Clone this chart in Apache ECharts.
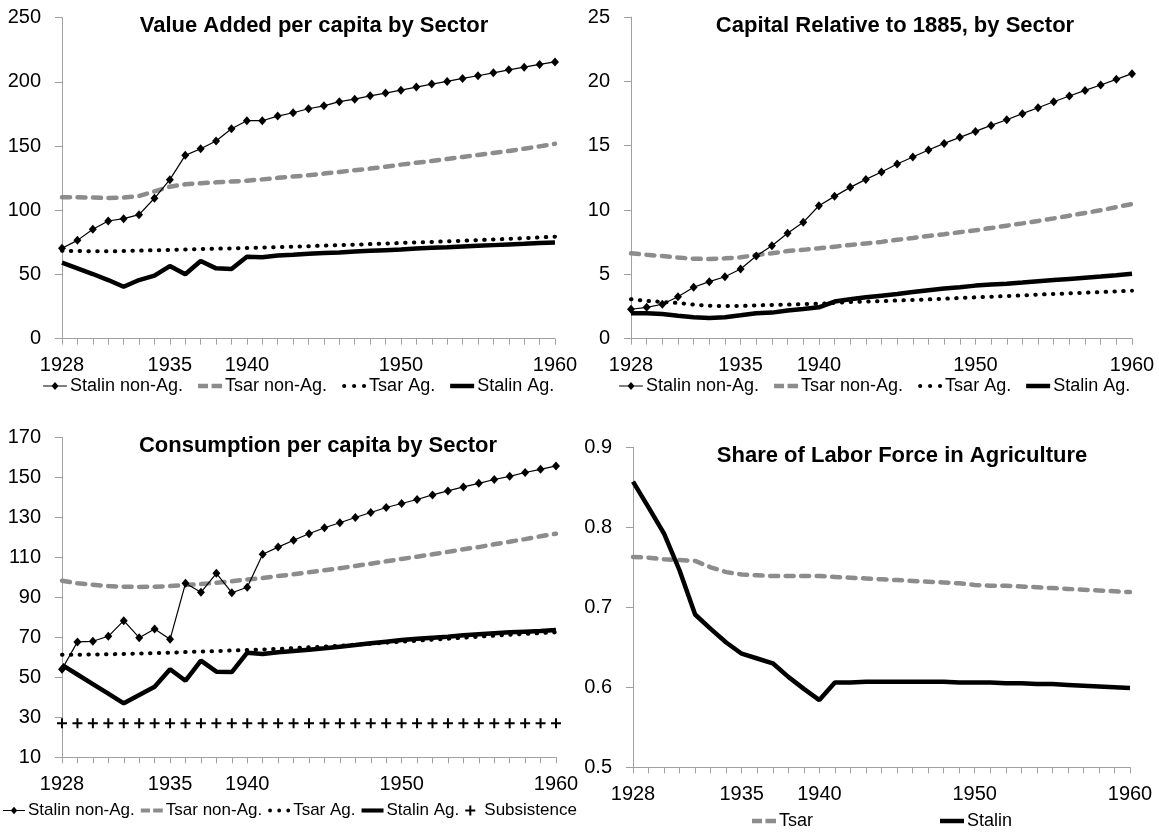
<!DOCTYPE html>
<html>
<head>
<meta charset="utf-8">
<script src="https://cdn.jsdelivr.net/npm/echarts@6/dist/echarts.min.js"></script>
<style>
html,body{margin:0;padding:0;background:#fff;}
#chart{width:1159px;height:832px;}
</style>
</head>
<body>
<div id="chart"></div>
<script>
// ---------- data ----------
var years = ['1928','1929','1930','1931','1932','1933','1934','1935','1936','1937','1938','1939','1940','1941','1942','1943','1944','1945','1946','1947','1948','1949','1950','1951','1952','1953','1954','1955','1956','1957','1958','1959','1960'];
var xTickLabels = ['1928','1935','1940','1950','1960'];

// Panel 1: Value Added per capita by Sector
var va_stalinNonAg = [70.3,76.5,85.1,91.6,93.4,96.5,109.3,123.8,142.7,147.9,153.9,163.5,169.7,169.7,173.3,175.9,179.0,181.3,184.5,186.5,189.1,191.2,193.5,195.9,198.2,200.3,202.6,204.7,207.0,209.3,211.4,213.5,215.5];
var va_tsarNonAg = [110.0,110.0,109.8,109.5,109.8,111.0,114.6,118.3,120.2,121.0,121.7,122.3,123.0,124.0,125.2,126.2,127.2,128.5,129.8,131.1,132.4,133.9,135.5,137.0,138.3,139.9,141.5,143.0,144.6,146.1,147.9,149.7,151.8];
var va_tsarAg = [68.4,68.2,68.0,68.0,68.2,68.5,68.8,69.1,69.4,69.7,70.0,70.3,70.6,70.9,71.2,71.6,72.0,72.4,72.8,73.2,73.6,74.0,74.5,74.9,75.3,75.8,76.2,76.7,77.2,77.7,78.2,78.8,79.4];
var va_stalinAg = [59.1,54.7,50.3,45.6,40.4,45.6,49.0,56.5,50.1,60.4,54.7,54.2,63.8,63.3,64.7,65.3,66.0,66.6,67.1,67.9,68.4,68.9,69.4,70.2,70.7,71.2,71.8,72.3,72.8,73.3,73.8,74.4,74.9];

// Panel 2: Capital Relative to 1885, by Sector
var k_stalinNonAg = [2.28,2.43,2.67,3.26,3.99,4.43,4.81,5.41,6.42,7.22,8.19,9.04,10.33,11.06,11.76,12.38,12.95,13.58,14.12,14.66,15.18,15.65,16.11,16.58,17.02,17.49,17.95,18.42,18.86,19.30,19.72,20.16,20.60];
var k_tsarNonAg = [6.63,6.52,6.42,6.30,6.21,6.19,6.24,6.32,6.50,6.63,6.81,6.90,7.02,7.15,7.28,7.40,7.52,7.68,7.82,7.98,8.12,8.27,8.42,8.60,8.78,8.96,9.15,9.35,9.56,9.77,9.98,10.22,10.47];
var k_tsarAg = [3.06,2.93,2.85,2.77,2.64,2.56,2.53,2.53,2.59,2.62,2.64,2.68,2.71,2.78,2.85,2.88,2.92,2.96,3.00,3.05,3.10,3.16,3.21,3.26,3.31,3.36,3.42,3.47,3.52,3.57,3.62,3.67,3.73];
var k_stalinAg = [1.97,1.97,1.91,1.78,1.66,1.60,1.66,1.81,1.97,2.02,2.18,2.30,2.43,2.88,3.06,3.21,3.34,3.47,3.63,3.76,3.89,3.99,4.12,4.20,4.27,4.36,4.46,4.55,4.64,4.73,4.82,4.93,5.05];

// Panel 3: Consumption per capita by Sector
var c_stalinNonAg = [54.0,67.7,68.0,70.5,78.3,69.8,74.2,69.0,97.0,92.5,102.0,92.3,95.0,111.5,115.1,118.5,121.8,124.8,127.3,129.9,132.4,134.9,136.9,138.9,141.2,143.2,145.2,147.0,148.9,150.5,152.4,154.0,155.7];
var c_tsarNonAg = [98.3,97.0,96.3,95.6,95.3,95.2,95.3,95.6,96.1,96.6,97.3,98.0,98.9,99.7,100.6,101.5,102.5,103.5,104.5,105.7,106.8,108.0,109.2,110.3,111.5,112.7,114.0,115.1,116.5,117.8,119.1,120.5,121.8];
var c_tsarAg = [61.3,61.3,61.4,61.5,61.7,61.9,62.1,62.3,62.6,62.9,63.1,63.4,63.6,63.9,64.2,64.6,65.0,65.3,65.8,66.3,66.8,67.3,67.8,68.3,68.8,69.3,69.8,70.3,70.8,71.3,71.7,72.1,72.5];
var c_stalinAg = [56.2,51.4,46.6,41.8,37.0,41.2,45.3,54.0,48.3,58.3,52.8,52.6,62.3,61.6,62.5,63.2,63.8,64.5,65.3,66.1,67.0,67.8,68.6,69.3,69.8,70.3,71.0,71.5,72.0,72.5,72.8,73.1,73.6];
var c_subsistence = [27,27,27,27,27,27,27,27,27,27,27,27,27,27,27,27,27,27,27,27,27,27,27,27,27,27,27,27,27,27,27,27,27];

// Panel 4: Share of Labor Force in Agriculture
var l_tsar = [0.763,0.762,0.760,0.759,0.758,0.750,0.744,0.741,0.740,0.739,0.739,0.739,0.739,0.738,0.737,0.736,0.735,0.734,0.733,0.732,0.731,0.730,0.728,0.727,0.727,0.726,0.725,0.724,0.723,0.722,0.721,0.720,0.719];
var l_stalin = [0.857,0.825,0.792,0.746,0.691,0.673,0.656,0.642,0.636,0.630,0.613,0.598,0.584,0.606,0.606,0.607,0.607,0.607,0.607,0.607,0.607,0.606,0.606,0.606,0.605,0.605,0.604,0.604,0.603,0.602,0.601,0.600,0.599];

// ---------- styles ----------
var FONT = "'Liberation Sans',Arial,sans-serif";
var AXIS_GRAY = '#a0a0a0';
var GRAY = '#8c8c8c';
var PLUS = 'path://M4,0H6V4H10V6H6V10H4V6H0V4H4Z';
var ICON = {
  'Stalin non-Ag.': 'path://M0,4.4H24V5.6H0Z M12,1L15.5,5L12,9L8.5,5Z',
  'Tsar non-Ag.': 'path://M0,0H10V4.5H0Z M13.5,0H24V4.5H13.5Z',
  'Tsar Ag.': 'path://M0.5,2a2,2 0 1,0 4,0a2,2 0 1,0 -4,0Z M10,2a2,2 0 1,0 4,0a2,2 0 1,0 -4,0Z M19.5,2a2,2 0 1,0 4,0a2,2 0 1,0 -4,0Z',
  'Stalin Ag.': 'path://M0,0H24V4.5H0Z',
  'Subsistence': PLUS,
  'Tsar': 'path://M0,0H10V4.5H0Z M13.5,0H24V4.5H13.5Z',
  'Stalin': 'path://M0,0H24V4.5H0Z'
};
function legendData(names){ return names.map(function(n){ return {name:n, icon:ICON[n]}; }); }

function sStalinNonAg(i, data){ return {name:'Stalin non-Ag.', type:'line', xAxisIndex:i, yAxisIndex:i, data:data,
  symbol:'diamond', symbolSize:[8,9], showSymbol:true, showAllSymbol:true, itemStyle:{color:'#000'}, lineStyle:{color:'#000', width:1.2}, z:5}; }
function sTsarNonAg(i, data, name){ return {name:name||'Tsar non-Ag.', type:'line', xAxisIndex:i, yAxisIndex:i, data:data,
  symbol:'none', itemStyle:{color:GRAY}, lineStyle:{color:GRAY, width:4.5, type:[8,7.5], cap:'round'}, z:3}; }
function sTsarAg(i, data){ return {name:'Tsar Ag.', type:'line', xAxisIndex:i, yAxisIndex:i, data:data,
  symbol:'none', itemStyle:{color:'#000'}, lineStyle:{color:'#000', width:4, type:[0.5,8.3], cap:'round'}, z:3}; }
function sStalinAg(i, data, name){ return {name:name||'Stalin Ag.', type:'line', xAxisIndex:i, yAxisIndex:i, data:data,
  symbol:'none', itemStyle:{color:'#000'}, lineStyle:{color:'#000', width:4.5}, z:4}; }

var grids = [
  {left:62, top:17.6, width:493, height:321},
  {left:631, top:17.1, width:501, height:321.5},
  {left:62, top:437.3, width:494, height:320},
  {left:633, top:447.3, width:497, height:320}
];
var yDefs = [
  {min:0, max:250, interval:50},
  {min:0, max:25, interval:5},
  {min:10, max:170, interval:20},
  {min:0.5, max:0.9, interval:0.1}
];

var legendText = function(size){ return {fontFamily:FONT, fontSize:size, color:'#000', padding:[0,0,0,-2]}; };

var option = {
  animation:false,
  backgroundColor:'#fff',
  textStyle:{fontFamily:FONT, color:'#000'},
  title:[
    {text:'Value Added per capita by Sector', left:314, top:26},
    {text:'Capital Relative to 1885, by Sector', left:895, top:26},
    {text:'Consumption per capita by Sector', left:318, top:446},
    {text:'Share of Labor Force in Agriculture', left:902, top:456}
  ].map(function(t){ return Object.assign(t, {textAlign:'center', textVerticalAlign:'middle', padding:0,
    textStyle:{fontFamily:FONT, fontSize:22, fontWeight:'bold', color:'#000'}}); }),
  grid: grids.map(function(g){ return Object.assign({outerBoundsMode:'none', containLabel:false}, g); }),
  xAxis: grids.map(function(g, i){ return {
    type:'category', gridIndex:i, data:years, boundaryGap:false,
    axisLine:{lineStyle:{color:AXIS_GRAY, width:1}},
    axisTick:{show:true, interval:0, length:6, lineStyle:{color:AXIS_GRAY}},
    axisLabel:{interval:function(idx, val){ return xTickLabels.indexOf(val) >= 0; },
      fontFamily:FONT, fontSize:20, color:'#000', margin:17, showMinLabel:true, showMaxLabel:true},
    splitLine:{show:false}
  }; }),
  yAxis: yDefs.map(function(d, i){ return {
    type:'value', gridIndex:i, min:d.min, max:d.max, interval:d.interval,
    axisLine:{show:true, lineStyle:{color:AXIS_GRAY, width:1}},
    axisTick:{show:true, length:7, lineStyle:{color:AXIS_GRAY}},
    axisLabel:{fontFamily:FONT, fontSize:20, color:'#000', margin:21,
      formatter: i === 3 ? function(v){ return v.toFixed(1); } : null},
    splitLine:{show:false}
  }; }),
  legend:[
    {left:43, top:377, padding:0, itemGap:15, itemWidth:24, itemHeight:10, symbolKeepAspect:true,
     data:legendData(['Stalin non-Ag.','Tsar non-Ag.','Tsar Ag.','Stalin Ag.']),
     textStyle:legendText(18), selectedMode:false},
    {left:619, top:377, padding:0, itemGap:15, itemWidth:24, itemHeight:10, symbolKeepAspect:true,
     data:legendData(['Stalin non-Ag.','Tsar non-Ag.','Tsar Ag.','Stalin Ag.']),
     textStyle:legendText(18), selectedMode:false},
    {left:3, top:802, padding:0, itemGap:6, itemWidth:22, itemHeight:10, symbolKeepAspect:true,
     data:legendData(['Stalin non-Ag.','Tsar non-Ag.','Tsar Ag.','Stalin Ag.','Subsistence']),
     textStyle:legendText(17), selectedMode:false},
    {left:752, top:812, padding:0, itemWidth:24, itemHeight:10, symbolKeepAspect:true, data:legendData(['Tsar']),
     textStyle:legendText(18), selectedMode:false},
    {left:940, top:812, padding:0, itemWidth:24, itemHeight:10, symbolKeepAspect:true, data:legendData(['Stalin']),
     textStyle:legendText(18), selectedMode:false}
  ],
  series:[
    sStalinNonAg(0, va_stalinNonAg), sTsarNonAg(0, va_tsarNonAg), sTsarAg(0, va_tsarAg), sStalinAg(0, va_stalinAg),
    sStalinNonAg(1, k_stalinNonAg), sTsarNonAg(1, k_tsarNonAg), sTsarAg(1, k_tsarAg), sStalinAg(1, k_stalinAg),
    sStalinNonAg(2, c_stalinNonAg), sTsarNonAg(2, c_tsarNonAg), sTsarAg(2, c_tsarAg), sStalinAg(2, c_stalinAg),
    {name:'Subsistence', type:'line', xAxisIndex:2, yAxisIndex:2, data:c_subsistence,
     symbol:PLUS, symbolSize:10, showSymbol:true, showAllSymbol:true, itemStyle:{color:'#000'}, lineStyle:{width:0, opacity:0}, z:5},
    sTsarNonAg(3, l_tsar, 'Tsar'), sStalinAg(3, l_stalin, 'Stalin')
  ]
};

var chart = echarts.init(document.getElementById('chart'), null, {renderer:'canvas'});
chart.setOption(option);
</script>
</body>
</html>
